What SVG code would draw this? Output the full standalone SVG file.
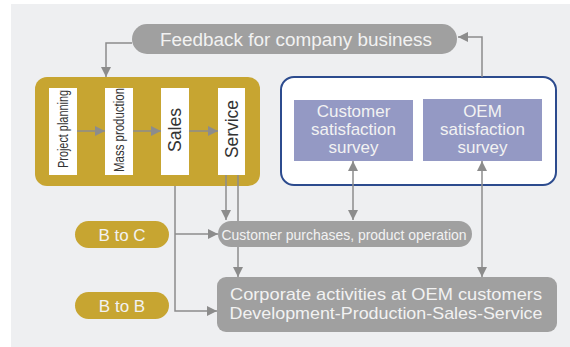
<svg xmlns="http://www.w3.org/2000/svg" width="570" height="347" viewBox="0 0 570 347">
<style>
.t{font-family:"Liberation Sans",Arial,sans-serif;}
.w{fill:#F2F2F2;}
.col{fill:#FFFFFF;}
.dk{fill:#333333;}
.ln{fill:none;stroke:#8C8C8C;stroke-width:1.5;}
.gp{fill:#A0A0A0;}
.gold{fill:#C7A531;}
.pur{fill:#9499C4;}
</style>
<defs>
<marker id="ah" viewBox="0 0 10 10" refX="10" refY="5" markerWidth="10" markerHeight="11" markerUnits="userSpaceOnUse" orient="auto-start-reverse">
<path d="M0,0 L10,5 L0,10 z" fill="#8C8C8C"/>
</marker>
</defs>
<rect x="11" y="4" width="559" height="343" fill="#EEEFF1"/>

<g id="feedback">
<rect class="gp" x="132" y="24" width="325" height="30" rx="15"/>
<text class="t w" x="296" y="46" font-size="18" text-anchor="middle" textLength="272" lengthAdjust="spacingAndGlyphs">Feedback for company business</text>
</g>

<g id="process">
<rect class="gold" x="35" y="77" width="225" height="109" rx="12"/>
<rect class="col" x="49" y="88" width="28" height="87"/>
<rect class="col" x="105" y="88" width="28" height="87"/>
<rect class="col" x="161" y="88" width="28" height="87"/>
<rect class="col" x="218" y="88" width="27" height="87"/>
<text class="t dk" transform="translate(68,129) rotate(-90)" font-size="14" text-anchor="middle" textLength="78" lengthAdjust="spacingAndGlyphs">Project planning</text>
<text class="t dk" transform="translate(124,130) rotate(-90)" font-size="14" text-anchor="middle" textLength="84" lengthAdjust="spacingAndGlyphs">Mass production</text>
<text class="t dk" transform="translate(181,130) rotate(-90)" font-size="18" text-anchor="middle" textLength="44" lengthAdjust="spacingAndGlyphs">Sales</text>
<text class="t dk" transform="translate(238,129) rotate(-90)" font-size="18" text-anchor="middle" textLength="58" lengthAdjust="spacingAndGlyphs">Service</text>
</g>

<g id="surveys">
<rect x="281" y="77" width="275" height="108" rx="13" fill="#FFFFFF" stroke="#2C4B8E" stroke-width="2"/>
<rect class="pur" x="294" y="100" width="119" height="61"/>
<rect class="pur" x="423" y="99" width="119" height="62"/>
<g class="t w" font-size="17" text-anchor="middle">
<text x="353.5" y="117">Customer</text>
<text x="353.5" y="135">satisfaction</text>
<text x="353.5" y="153">survey</text>
<text x="482.5" y="117">OEM</text>
<text x="482.5" y="135">satisfaction</text>
<text x="482.5" y="153">survey</text>
</g>
</g>

<g id="b2c">
<rect class="gold" x="75" y="221" width="94" height="27" rx="13.5"/>
<text class="t w" x="122" y="241" font-size="17" text-anchor="middle">B to C</text>
</g>
<g id="b2b">
<rect class="gold" x="75" y="292" width="94" height="27" rx="13.5"/>
<text class="t w" x="122" y="312" font-size="17" text-anchor="middle">B to B</text>
</g>

<g id="purchases">
<rect class="gp" x="218" y="221" width="254" height="26" rx="13"/>
<text class="t w" x="344" y="240" font-size="15" text-anchor="middle" textLength="245" lengthAdjust="spacingAndGlyphs">Customer purchases, product operation</text>
</g>

<g id="corporate">
<rect class="gp" x="217" y="277" width="340" height="55" rx="9"/>
<g class="t w" font-size="17" text-anchor="middle">
<text x="386" y="300" textLength="312" lengthAdjust="spacingAndGlyphs">Corporate activities at OEM customers</text>
<text x="386" y="319" textLength="313" lengthAdjust="spacingAndGlyphs">Development-Production-Sales-Service</text>
</g>
</g>

<g id="connectors" class="ln">
<path d="M132,43 H106 V77" marker-end="url(#ah)"/>
<path d="M482,77 V37 H458" marker-end="url(#ah)"/>
<path d="M77,131 H105" marker-end="url(#ah)"/>
<path d="M133,131 H161" marker-end="url(#ah)"/>
<path d="M189,131 H218" marker-end="url(#ah)"/>
<path d="M353,161 V220" marker-start="url(#ah)" marker-end="url(#ah)"/>
<path d="M482,161 V277" marker-start="url(#ah)" marker-end="url(#ah)"/>
<path d="M226,175 V220" marker-end="url(#ah)"/>
<path d="M238,175 V221"/>
<path d="M238,247 V277" marker-end="url(#ah)"/>
<path d="M175,186 V311 H217" marker-end="url(#ah)"/>
<path d="M175,234 H218" marker-end="url(#ah)"/>
</g>
</svg>
